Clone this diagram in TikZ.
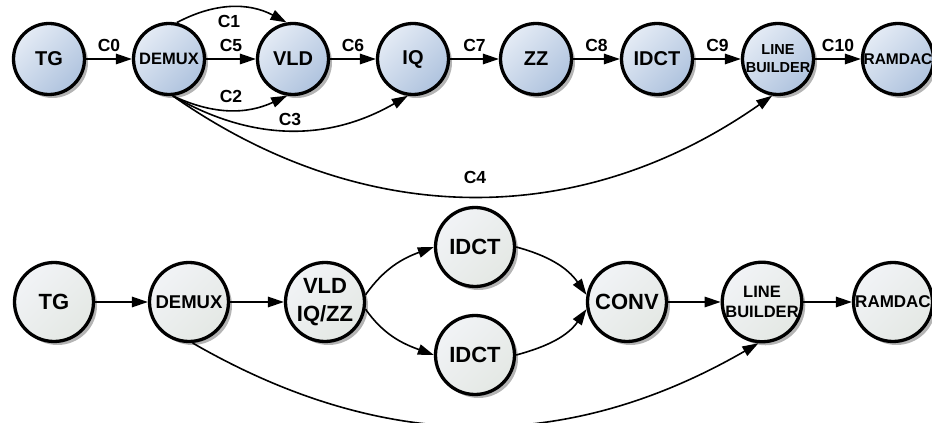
\documentclass[tikz,border=0pt]{standalone}
\usepackage{fontspec}
\setmainfont{Liberation Sans}
\usetikzlibrary{arrows.meta,shadows}
\definecolor{topA}{HTML}{E4EBF5}
\definecolor{topB}{HTML}{AFC3DE}
\definecolor{botA}{HTML}{F1F3F6}
\definecolor{botB}{HTML}{E4E8E4}
\tikzset{
  base/.style={circle,draw=black,line width=3.3pt,inner sep=0pt,align=center,
    drop shadow={shadow xshift=3.5pt,shadow yshift=-3.5pt,opacity=0.45,fill=black!65}},
  topnode/.style={base,minimum size=71pt,top color=topA,bottom color=topB,shading angle=45,
    font=\bfseries\fontsize{20}{22}\selectfont},
  botnode/.style={base,minimum size=79pt,top color=botA,bottom color=botB,shading angle=45,
    font=\bfseries\fontsize{22}{28}\selectfont},
  arr/.style={line width=1.6pt,-{Triangle[length=16pt,width=10.5pt]}},
  lab/.style={font=\bfseries\fontsize{17.5}{19}\selectfont,inner sep=0pt},
  elab/.style={lab,above=7pt},
}
\begin{document}
\begin{tikzpicture}[x=1pt,y=1pt]
\useasboundingbox (0,0) rectangle (932,423);
% top row
\node[topnode] (tg) at (49,364) {TG};
\node[topnode,font=\bfseries\fontsize{16.5}{18}\selectfont] (demux) at (169,364) {DEMUX};
\node[topnode] (vld) at (293,364) {VLD};
\node[topnode] (iq) at (413,364) {IQ};
\node[topnode] (zz) at (536,364) {ZZ};
\node[topnode] (idct) at (657,364) {IDCT};
\node[topnode,font=\bfseries\fontsize{14.5}{18}\selectfont] (lb) at (778,364) {LINE\\BUILDER};
\node[topnode,font=\bfseries\fontsize{15.5}{18}\selectfont] (ram) at (898,364) {RAMDAC};
\draw[arr] (tg) -- node[elab]{C0} (demux);
\draw[arr] (demux) -- node[elab]{C5} (vld);
\draw[arr] (vld) -- node[elab]{C6} (iq);
\draw[arr] (iq) -- node[elab]{C7} (zz);
\draw[arr] (zz) -- node[elab]{C8} (idct);
\draw[arr] (idct) -- node[elab]{C9} (lb);
\draw[arr] (lb) -- node[elab]{C10} (ram);
\draw[arr] (demux.78) to[out=28,in=152] (vld.100);
\draw[arr] (demux.-84) to[out=-25,in=-155] (vld.-99);
\draw[arr] (demux.-84) to[out=-30,in=-150] (iq.-98);
\draw[arr] (demux.-84) to[out=-35,in=-145] (lb.-99);
\node[lab] (c1) at (229,402) {C1};
\node[lab] (c2) at (231,327) {C2};
\node[lab] (c3) at (290,304) {C3};
\node[lab] (c4) at (475,246) {C4};
% bottom row
\node[botnode] (tg2) at (54,121) {TG};
\node[botnode,font=\bfseries\fontsize{18.5}{20}\selectfont] (demux2) at (189,121) {DEMUX};
\node[botnode] (vld2) at (325,121) {VLD\\IQ/ZZ};
\node[botnode] (idctA) at (475,176) {IDCT};
\node[botnode] (idctB) at (475,68) {IDCT};
\node[botnode] (conv) at (627,121) {CONV};
\node[botnode,font=\bfseries\fontsize{16.5}{20}\selectfont] (lb2) at (762,121) {LINE\\BUILDER};
\node[botnode,font=\bfseries\fontsize{17}{19}\selectfont] (ram2) at (893,121) {RAMDAC};
\draw[arr] (tg2) -- (demux2);
\draw[arr] (demux2) -- (vld2);
\draw[arr] (vld2.10) to[out=55,in=200] (idctA.180);
\draw[arr] (vld2.-10) to[out=-55,in=160] (idctB.180);
\draw[arr] (idctA.0) to[out=-15,in=125] (conv.170);
\draw[arr] (idctB.0) to[out=15,in=-125] (conv.190);
\draw[arr] (conv) -- (lb2);
\draw[arr] (lb2) -- (ram2);
\draw[arr] (demux2.-85) to[out=-30,in=-150] (lb2.-95);
\end{tikzpicture}
\end{document}
